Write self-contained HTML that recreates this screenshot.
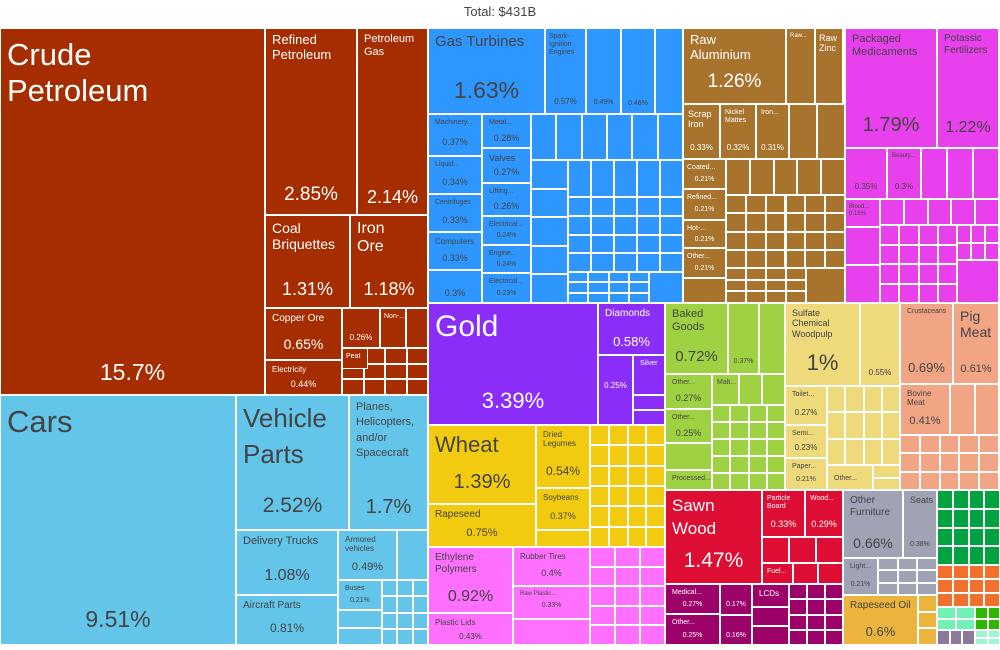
<!DOCTYPE html>
<html><head><meta charset="utf-8"><style>
body{margin:0;width:1000px;height:650px;background:#fff;position:relative;overflow:hidden;font-family:"Liberation Sans",sans-serif}
.t{position:absolute;box-sizing:border-box;border:1px solid #fff;overflow:hidden;color:#444;white-space:nowrap}
.w{color:#fff}
.l{position:absolute;left:6px;top:4px;line-height:1.15}
.p{position:absolute;left:0;right:0;text-align:center}
#title{position:absolute;top:4px;left:0;width:1000px;text-align:center;font-size:13px;color:#444}
</style></head><body>
<div id="title">Total: $431B</div>
<div id="m"></div>
<!-- Crude group -->
<div class="t w" style="left:0;top:28px;width:265px;height:367px;background:#a52d00"><div class="l" style="font-size:31px;top:8px">Crude<br>Petroleum</div><div class="p" style="top:330px;font-size:23px">15.7%</div></div>
<div class="t w" style="left:265px;top:28px;width:92px;height:187px;background:#a52d00"><div class="l" style="font-size:13px">Refined<br>Petroleum</div><div class="p" style="top:155px;font-size:19px">2.85%</div></div>
<div class="t w" style="left:357px;top:28px;width:71px;height:187px;background:#a52d00"><div class="l" style="font-size:11px">Petroleum<br>Gas</div><div class="p" style="top:158px;font-size:18px">2.14%</div></div>
<div class="t w" style="left:265px;top:215px;width:85px;height:93px;background:#a52d00"><div class="l" style="font-size:14px">Coal<br>Briquettes</div><div class="p" style="top:63px;font-size:18px">1.31%</div></div>
<div class="t w" style="left:350px;top:215px;width:78px;height:93px;background:#a52d00"><div class="l" style="font-size:16px">Iron<br>Ore</div><div class="p" style="top:63px;font-size:18px">1.18%</div></div>
<div class="t w" style="left:265px;top:308px;width:77px;height:52px;background:#a52d00"><div class="l" style="font-size:10px">Copper Ore</div><div class="p" style="top:27px;font-size:14px">0.65%</div></div>
<div class="t w" style="left:265px;top:360px;width:77px;height:35px;background:#a52d00"><div class="l" style="font-size:8px">Electricity</div><div class="p" style="top:18px;font-size:9px">0.44%</div></div>
<div class="t w" style="left:342px;top:308px;width:38px;height:40px;background:#a52d00"><div class="p" style="top:24px;font-size:8px">0.26%</div></div>
<div class="t w" style="left:380px;top:308px;width:26px;height:40px;background:#a52d00"><div class="l" style="font-size:7px;left:3px">Non-...</div></div>
<div class="t w" style="left:342px;top:348px;width:26px;height:21px;background:#a52d00"><div class="l" style="font-size:7px;left:3px">Peat</div></div>
<!-- Cars group -->
<div class="t" style="left:0;top:395px;width:236px;height:250px;background:#63c5ea"><div class="l" style="font-size:31px;top:8px">Cars</div><div class="p" style="top:210px;font-size:23px">9.51%</div></div>
<div class="t" style="left:236px;top:395px;width:113px;height:135px;background:#63c5ea"><div class="l" style="font-size:26px;line-height:1.4">Vehicle<br>Parts</div><div class="p" style="top:98px;font-size:21px">2.52%</div></div>
<div class="t" style="left:349px;top:395px;width:79px;height:135px;background:#63c5ea"><div class="l" style="font-size:11px;line-height:1.4">Planes,<br>Helicopters,<br>and/or<br>Spacecraft</div><div class="p" style="top:100px;font-size:20px">1.7%</div></div>
<div class="t" style="left:236px;top:530px;width:102px;height:65px;background:#63c5ea"><div class="l" style="font-size:11px">Delivery Trucks</div><div class="p" style="top:36px;font-size:16px">1.08%</div></div>
<div class="t" style="left:236px;top:595px;width:102px;height:50px;background:#63c5ea"><div class="l" style="font-size:10px">Aircraft Parts</div><div class="p" style="top:25px;font-size:12px">0.81%</div></div>
<div class="t" style="left:338px;top:530px;width:59px;height:50px;background:#63c5ea"><div class="l" style="font-size:8px">Armored<br>vehicles</div><div class="p" style="top:30px;font-size:11px">0.49%</div></div>
<div class="t" style="left:397px;top:530px;width:31px;height:50px;background:#63c5ea"></div>
<div class="t" style="left:338px;top:580px;width:44px;height:30px;background:#63c5ea"><div class="l" style="font-size:7px">Buses</div><div class="p" style="top:16px;font-size:7px">0.21%</div></div>
<!-- Gas turbines group -->
<div class="t" style="left:428px;top:28px;width:117px;height:86px;background:#2e96ff"><div class="l" style="font-size:15px">Gas Turbines</div><div class="p" style="top:48px;font-size:23px">1.63%</div></div>
<div class="t" style="left:545px;top:28px;width:41px;height:86px;background:#2e96ff"><div class="l" style="font-size:7px;left:3px">Spark-<br>Ignition<br>Engines</div><div class="p" style="top:68px;font-size:8px">0.57%</div></div>
<div class="t" style="left:586px;top:28px;width:35px;height:86px;background:#2e96ff"><div class="p" style="top:70px;font-size:7px">0.49%</div></div>
<div class="t" style="left:621px;top:28px;width:34px;height:86px;background:#2e96ff"><div class="p" style="top:71px;font-size:7px">0.46%</div></div>
<div class="t" style="left:655px;top:28px;width:28px;height:86px;background:#2e96ff"></div>
<div class="t" style="left:428px;top:114px;width:54px;height:42px;background:#2e96ff"><div class="l" style="font-size:7px">Machinery...</div><div class="p" style="top:22px;font-size:9px">0.37%</div></div>
<div class="t" style="left:428px;top:156px;width:54px;height:38px;background:#2e96ff"><div class="l" style="font-size:7px">Liquid...</div><div class="p" style="top:20px;font-size:9px">0.34%</div></div>
<div class="t" style="left:428px;top:194px;width:54px;height:38px;background:#2e96ff"><div class="l" style="font-size:7px">Centrifuges</div><div class="p" style="top:20px;font-size:9px">0.33%</div></div>
<div class="t" style="left:428px;top:232px;width:54px;height:38px;background:#2e96ff"><div class="l" style="font-size:8px">Computers</div><div class="p" style="top:20px;font-size:9px">0.33%</div></div>
<div class="t" style="left:428px;top:270px;width:54px;height:33px;background:#2e96ff"><div class="p" style="top:17px;font-size:9px">0.3%</div></div>
<div class="t" style="left:482px;top:114px;width:49px;height:34px;background:#2e96ff"><div class="l" style="font-size:7px">Metal...</div><div class="p" style="top:18px;font-size:9px">0.28%</div></div>
<div class="t" style="left:482px;top:148px;width:49px;height:35px;background:#2e96ff"><div class="l" style="font-size:9px">Valves</div><div class="p" style="top:18px;font-size:9px">0.27%</div></div>
<div class="t" style="left:482px;top:183px;width:49px;height:33px;background:#2e96ff"><div class="l" style="font-size:7px">Lifting...</div><div class="p" style="top:17px;font-size:9px">0.26%</div></div>
<div class="t" style="left:482px;top:216px;width:49px;height:29px;background:#2e96ff"><div class="l" style="font-size:7px">Electrical...</div><div class="p" style="top:15px;font-size:7px">0.24%</div></div>
<div class="t" style="left:482px;top:245px;width:49px;height:28px;background:#2e96ff"><div class="l" style="font-size:7px">Engine...</div><div class="p" style="top:15px;font-size:7px">0.24%</div></div>
<div class="t" style="left:482px;top:273px;width:49px;height:30px;background:#2e96ff"><div class="l" style="font-size:7px">Electrical...</div><div class="p" style="top:16px;font-size:7px">0.23%</div></div>
<!-- Aluminium group -->
<div class="t w" style="left:683px;top:28px;width:103px;height:76px;background:#a8732c"><div class="l" style="font-size:13px">Raw<br>Aluminium</div><div class="p" style="top:42px;font-size:19px">1.26%</div></div>
<div class="t w" style="left:786px;top:28px;width:29px;height:76px;background:#a8732c"><div class="l" style="font-size:6px;left:3px">Raw...</div></div>
<div class="t w" style="left:815px;top:28px;width:28px;height:76px;background:#a8732c"><div class="l" style="font-size:9px;left:3px">Raw<br>Zinc</div></div>
<div class="t w" style="left:683px;top:104px;width:37px;height:55px;background:#a8732c"><div class="l" style="font-size:9px;left:4px">Scrap<br>Iron</div><div class="p" style="top:38px;font-size:8px">0.33%</div></div>
<div class="t w" style="left:720px;top:104px;width:36px;height:55px;background:#a8732c"><div class="l" style="font-size:7px;left:4px">Nickel<br>Mattes</div><div class="p" style="top:38px;font-size:8px">0.32%</div></div>
<div class="t w" style="left:756px;top:104px;width:33px;height:55px;background:#a8732c"><div class="l" style="font-size:7px;left:4px">Iron...</div><div class="p" style="top:38px;font-size:8px">0.31%</div></div>
<div class="t w" style="left:683px;top:159px;width:43px;height:30px;background:#a8732c"><div class="l" style="font-size:7px;left:3px">Coated...</div><div class="p" style="top:16px;font-size:7px">0.21%</div></div>
<div class="t w" style="left:683px;top:189px;width:43px;height:31px;background:#a8732c"><div class="l" style="font-size:7px;left:3px">Refined...</div><div class="p" style="top:16px;font-size:7px">0.21%</div></div>
<div class="t w" style="left:683px;top:220px;width:43px;height:28px;background:#a8732c"><div class="l" style="font-size:7px;left:3px">Hot-...</div><div class="p" style="top:15px;font-size:7px">0.21%</div></div>
<div class="t w" style="left:683px;top:248px;width:43px;height:30px;background:#a8732c"><div class="l" style="font-size:7px;left:3px">Other...</div><div class="p" style="top:16px;font-size:7px">0.21%</div></div>
<!-- Medicaments group -->
<div class="t" style="left:845px;top:28px;width:92px;height:120px;background:#e940ee"><div class="l" style="font-size:11px">Packaged<br>Medicaments</div><div class="p" style="top:85px;font-size:20px">1.79%</div></div>
<div class="t" style="left:937px;top:28px;width:62px;height:120px;background:#e940ee"><div class="l" style="font-size:10px">Potassic<br>Fertilizers</div><div class="p" style="top:90px;font-size:16px">1.22%</div></div>
<div class="t" style="left:845px;top:148px;width:42px;height:51px;background:#e940ee"><div class="p" style="top:33px;font-size:8px">0.35%</div></div>
<div class="t" style="left:887px;top:148px;width:34px;height:51px;background:#e940ee"><div class="l" style="font-size:6px;left:4px">Beauty...</div><div class="p" style="top:33px;font-size:8px">0.3%</div></div>
<div class="t" style="left:845px;top:199px;width:35px;height:28px;background:#e940ee"><div class="l" style="font-size:6px;left:3px">Blood...<br>0.16%</div></div>
<!-- Gold -->
<div class="t w" style="left:428px;top:303px;width:170px;height:122px;background:#8a2df8"><div class="l" style="font-size:30px;top:6px">Gold</div><div class="p" style="top:84px;font-size:22px">3.39%</div></div>
<div class="t w" style="left:598px;top:303px;width:67px;height:52px;background:#8a2df8"><div class="l" style="font-size:10px">Diamonds</div><div class="p" style="top:30px;font-size:13px">0.58%</div></div>
<div class="t w" style="left:598px;top:355px;width:35px;height:70px;background:#8a2df8"><div class="p" style="top:25px;font-size:8px">0.25%</div></div>
<div class="t w" style="left:633px;top:355px;width:32px;height:40px;background:#8a2df8"><div class="l" style="font-size:7px;left:6px">Silver</div></div>
<!-- Wheat -->
<div class="t" style="left:428px;top:425px;width:108px;height:79px;background:#f2cb10"><div class="l" style="font-size:22px;top:6px">Wheat</div><div class="p" style="top:45px;font-size:20px">1.39%</div></div>
<div class="t" style="left:428px;top:504px;width:108px;height:43px;background:#f2cb10"><div class="l" style="font-size:10px">Rapeseed</div><div class="p" style="top:22px;font-size:11px">0.75%</div></div>
<div class="t" style="left:536px;top:425px;width:54px;height:63px;background:#f2cb10"><div class="l" style="font-size:8px">Dried<br>Legumes</div><div class="p" style="top:38px;font-size:12px">0.54%</div></div>
<div class="t" style="left:536px;top:488px;width:54px;height:42px;background:#f2cb10"><div class="l" style="font-size:8px">Soybeans</div><div class="p" style="top:22px;font-size:9px">0.37%</div></div>
<div class="t" style="left:536px;top:530px;width:54px;height:17px;background:#f2cb10"></div>
<!-- Ethylene -->
<div class="t" style="left:428px;top:547px;width:85px;height:66px;background:#ff70ff"><div class="l" style="font-size:10px">Ethylene<br>Polymers</div><div class="p" style="top:40px;font-size:16px">0.92%</div></div>
<div class="t" style="left:428px;top:613px;width:85px;height:32px;background:#ff70ff"><div class="l" style="font-size:8px">Plastic Lids</div><div class="p" style="top:18px;font-size:8px">0.43%</div></div>
<div class="t" style="left:513px;top:547px;width:77px;height:39px;background:#ff70ff"><div class="l" style="font-size:8px">Rubber Tires</div><div class="p" style="top:20px;font-size:9px">0.4%</div></div>
<div class="t" style="left:513px;top:586px;width:77px;height:33px;background:#ff70ff"><div class="l" style="font-size:6px">Raw Plastic...</div><div class="p" style="top:15px;font-size:7px">0.33%</div></div>
<div class="t" style="left:513px;top:619px;width:77px;height:26px;background:#ff70ff"></div>
<!-- Green -->
<div class="t" style="left:665px;top:303px;width:63px;height:71px;background:#9fd242"><div class="l" style="font-size:11px">Baked<br>Goods</div><div class="p" style="top:44px;font-size:15px">0.72%</div></div>
<div class="t" style="left:728px;top:303px;width:31px;height:71px;background:#9fd242"><div class="p" style="top:54px;font-size:7px">0.37%</div></div>
<div class="t" style="left:759px;top:303px;width:26px;height:71px;background:#9fd242"></div>
<div class="t" style="left:665px;top:374px;width:47px;height:35px;background:#9fd242"><div class="l" style="font-size:7px">Other...</div><div class="p" style="top:18px;font-size:9px">0.27%</div></div>
<div class="t" style="left:665px;top:409px;width:47px;height:34px;background:#9fd242"><div class="l" style="font-size:7px">Other...</div><div class="p" style="top:18px;font-size:9px">0.25%</div></div>
<div class="t" style="left:665px;top:443px;width:47px;height:27px;background:#9fd242"></div>
<div class="t" style="left:665px;top:470px;width:47px;height:20px;background:#9fd242"><div class="l" style="font-size:7px;top:4px">Processed...</div></div>
<div class="t" style="left:712px;top:374px;width:27px;height:31px;background:#9fd242"><div class="l" style="font-size:7px;left:4px">Malt...</div></div>
<!-- Sulfate -->
<div class="t" style="left:785px;top:303px;width:75px;height:83px;background:#eed97b"><div class="l" style="font-size:9px">Sulfate<br>Chemical<br>Woodpulp</div><div class="p" style="top:46px;font-size:22px">1%</div></div>
<div class="t" style="left:860px;top:303px;width:40px;height:83px;background:#eed97b"><div class="p" style="top:64px;font-size:8px">0.55%</div></div>
<div class="t" style="left:785px;top:386px;width:42px;height:39px;background:#eed97b"><div class="l" style="font-size:7px">Toilet...</div><div class="p" style="top:21px;font-size:8px">0.27%</div></div>
<div class="t" style="left:785px;top:425px;width:42px;height:33px;background:#eed97b"><div class="l" style="font-size:7px">Semi...</div><div class="p" style="top:17px;font-size:8px">0.23%</div></div>
<div class="t" style="left:785px;top:458px;width:42px;height:32px;background:#eed97b"><div class="l" style="font-size:7px">Paper...</div><div class="p" style="top:17px;font-size:7px">0.21%</div></div>
<div class="t" style="left:827px;top:465px;width:46px;height:25px;background:#eed97b"><div class="l" style="font-size:7px;top:9px">Other...</div></div>
<!-- Salmon -->
<div class="t" style="left:900px;top:303px;width:53px;height:81px;background:#f2a584"><div class="l" style="font-size:7px">Crustaceans</div><div class="p" style="top:56px;font-size:13px">0.69%</div></div>
<div class="t" style="left:953px;top:303px;width:46px;height:81px;background:#f2a584"><div class="l" style="font-size:14px">Pig<br>Meat</div><div class="p" style="top:59px;font-size:11px">0.61%</div></div>
<div class="t" style="left:900px;top:384px;width:50px;height:51px;background:#f2a584"><div class="l" style="font-size:8px">Bovine<br>Meat</div><div class="p" style="top:30px;font-size:11px">0.41%</div></div>
<!-- Red -->
<div class="t w" style="left:665px;top:490px;width:97px;height:94px;background:#de0d33"><div class="l" style="font-size:17px;line-height:1.35">Sawn<br>Wood</div><div class="p" style="top:58px;font-size:21px">1.47%</div></div>
<div class="t w" style="left:762px;top:490px;width:43px;height:47px;background:#de0d33"><div class="l" style="font-size:7px;left:4px">Particle<br>Board</div><div class="p" style="top:28px;font-size:9px">0.33%</div></div>
<div class="t w" style="left:805px;top:490px;width:38px;height:47px;background:#de0d33"><div class="l" style="font-size:7px;left:4px">Wood...</div><div class="p" style="top:28px;font-size:9px">0.29%</div></div>
<div class="t w" style="left:762px;top:563px;width:31px;height:21px;background:#de0d33"><div class="l" style="font-size:7px;left:4px">Fuel...</div></div>
<!-- Dark magenta -->
<div class="t w" style="left:665px;top:584px;width:55px;height:30px;background:#9c0069"><div class="l" style="font-size:7px">Medical...</div><div class="p" style="top:16px;font-size:7px">0.27%</div></div>
<div class="t w" style="left:665px;top:614px;width:55px;height:31px;background:#9c0069"><div class="l" style="font-size:7px">Other...</div><div class="p" style="top:17px;font-size:7px">0.25%</div></div>
<div class="t w" style="left:720px;top:584px;width:32px;height:31px;background:#9c0069"><div class="p" style="top:16px;font-size:7px">0.17%</div></div>
<div class="t w" style="left:720px;top:615px;width:32px;height:30px;background:#9c0069"><div class="p" style="top:16px;font-size:7px">0.16%</div></div>
<div class="t w" style="left:752px;top:584px;width:37px;height:23px;background:#9c0069"><div class="l" style="font-size:8px">LCDs</div></div>
<!-- Gray -->
<div class="t" style="left:843px;top:490px;width:60px;height:68px;background:#9fa3b4"><div class="l" style="font-size:10px">Other<br>Furniture</div><div class="p" style="top:44px;font-size:14px">0.66%</div></div>
<div class="t" style="left:903px;top:490px;width:34px;height:68px;background:#9fa3b4"><div class="l" style="font-size:9px">Seats</div><div class="p" style="top:50px;font-size:7px">0.38%</div></div>
<div class="t" style="left:843px;top:558px;width:35px;height:37px;background:#9fa3b4"><div class="l" style="font-size:7px">Light...</div><div class="p" style="top:22px;font-size:7px">0.21%</div></div>
<div class="t" style="left:843px;top:595px;width:75px;height:50px;background:#ecb43d"><div class="l" style="font-size:10px">Rapeseed Oil</div><div class="p" style="top:28px;font-size:13px">0.6%</div></div>
<script>
function g(x,y,w,h,c,r,col){var m=document.getElementById('m');var cw=w/c,rh=h/r;for(var i=0;i<c;i++)for(var j=0;j<r;j++){var d=document.createElement('div');d.className='t';d.style.cssText='left:'+(x+i*cw)+'px;top:'+(y+j*rh)+'px;width:'+cw+'px;height:'+rh+'px;background:'+col;m.appendChild(d);}}
var B='#a52d00';g(406,308,22,40,1,1,B);g(342,348,86,47,4,3,B);
var L='#63c5ea';g(338,610,44,35,1,2,L);g(382,580,46,65,3,4,L);
var G='#2e96ff';g(531,114,152,46,6,1,G);g(531,160,37,143,1,5,G);g(568,160,115,37,5,1,G);g(568,197,115,75,5,4,G);g(568,272,81,31,4,3,G);g(649,272,34,31,1,1,G);
var A='#a8732c';g(789,104,56,55,2,1,A);g(726,159,119,36,5,1);g(726,159,119,36,5,1,A);g(726,195,119,73,6,4,A);g(726,268,80,35,4,3,A);g(806,268,39,35,1,1,A);g(683,278,43,25,1,1,A);
var P='#e940ee';g(921,148,78,51,3,1,P);g(880,199,119,26,5,1,P);g(845,227,35,76,1,2,P);g(880,225,77,78,4,4,P);g(957,225,42,35,3,2,P);g(957,260,42,43,1,1,P);
var V='#8a2df8';g(633,395,32,30,1,2,V);
var Y='#f2cb10';g(590,425,75,122,4,6,Y);
var K='#ff70ff';g(590,547,75,98,3,5,K);
var E='#9fd242';g(739,374,46,31,2,1,E);g(712,405,73,85,4,5,E);
var S='#eed97b';g(827,386,73,79,4,3,S);g(873,465,27,25,1,2,S);
var Q='#f2a584';g(950,384,49,51,2,1,Q);g(900,435,99,55,5,3,Q);
var R='#de0d33';g(762,537,81,26,3,1,R);g(793,563,50,21,2,1,R);
var D='#9c0069';g(752,607,37,38,1,2,D);g(789,584,54,61,3,4,D);
var Z='#9fa3b4';g(878,558,59,37,3,3,Z);g(918,595,19,50,1,3,'#ecb43d');
g(937,490,63,75,4,4,'#00a33f');g(937,565,63,42,4,3,'#f36f2c');g(937,607,38,23,2,2,'#6ff2b4');g(975,607,25,23,2,2,'#2db800');g(937,630,38,15,3,1,'#8c7a9e');g(975,630,25,15,2,2,'#9ff5d0');
</script>
</body></html>
